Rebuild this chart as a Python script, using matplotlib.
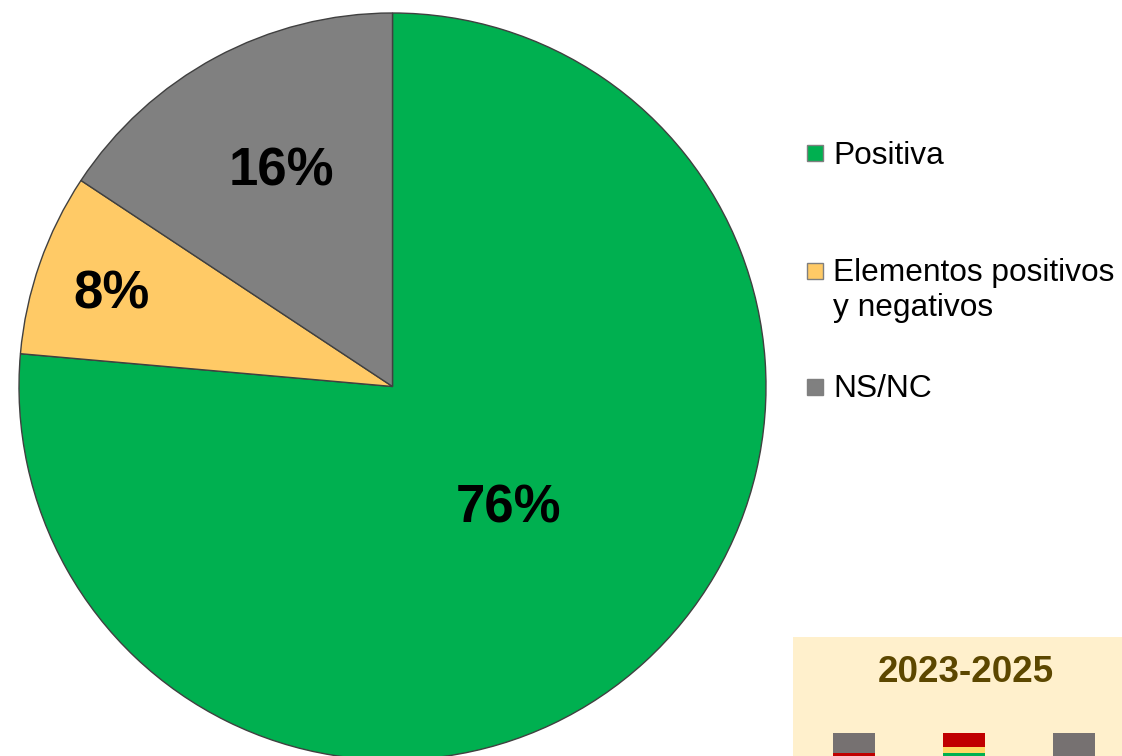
import numpy as np
import matplotlib.pyplot as plt
from matplotlib.patches import Rectangle

plt.rcParams['font.family'] = ['Liberation Sans', 'DejaVu Sans']

labels = ['Positiva', 'Elementos positivos\ny negativos', 'NS/NC']
values = [76.4, 7.9, 15.7]
colors = ['#00B050', '#FFCA66', '#808080']
period = '2023-2025'

W, H = 1122, 756
fig = plt.figure(figsize=(W / 100, H / 100), dpi=100)

# pie axes: centre (392.5, 386.5) px from top, radius 373.5 px
cx, cy, r = 392.5, H - 386.5, 373.5
ax = fig.add_axes([(cx - r) / W, (cy - r) / H, 2 * r / W, 2 * r / H])
wedges, texts = ax.pie(values, colors=colors, startangle=90, counterclock=False,
                       radius=1, labels=[f'{v:.0f}%' for v in values],
                       wedgeprops=dict(edgecolor='#404040', linewidth=1.0),
                       textprops=dict(fontsize=38, fontweight='bold', color='black'))
ax.set_xlim(-1, 1)
ax.set_ylim(-1, 1)
ax.set_aspect('equal')
ax.axis('off')
for w in wedges:
    w.set_clip_on(False)

# each value label sits at its own distance (and small angular nudge) from the centre
label_dist = [0.45, 0.791, 0.648]
label_nudge = [1.0, 1.15, -1.0]
for w, t, d, da in zip(wedges, texts, label_dist, label_nudge):
    ang = np.deg2rad((w.theta1 + w.theta2) / 2 + da)
    t.set_position((d * np.cos(ang), d * np.sin(ang)))
    t.set_ha('center')
    t.set_va('center')

# legend drawn by hand, marker beside the first line of each entry
marker_y = [152.5, 271.5, 387]
baseline_y = [164, 280, 397]
line_h = 36
for lab, col, my, by in zip(labels, colors, marker_y, baseline_y):
    fig.patches.append(Rectangle((807 / W, (H - my - 8) / H), 16 / W, 16 / H,
                                 transform=fig.transFigure, facecolor=col,
                                 edgecolor='#7f7f7f', linewidth=1.0))
    nlines = lab.count('\n')
    # va='baseline' anchors the last line of a multi-line text
    fig.text(833 / W, (H - by - line_h * nlines) / H, lab, fontsize=22.8,
             ha='left', va='baseline', linespacing=1.23, color='black')

# period box in the lower right corner
fig.patches.append(Rectangle((793 / W, 0), (W - 793) / W, 119 / H,
                             transform=fig.transFigure, facecolor='#FFF0CC', edgecolor='none'))
fig.text(966 / W, (H - 673) / H, period, fontsize=26.5, fontweight='bold',
         color='#5C4700', ha='center', va='center')

# small bar icons at the bottom of the box
icons = [
    [(833, 733, 753, '#767171'), (833, 753, 760, '#C00000')],
    [(943, 733, 747, '#C00000'), (943, 747, 753, '#FFD966'), (943, 753, 760, '#00B050')],
    [(1053, 733, 760, '#767171')],
]
for icon in icons:
    for x0, y0, y1, c in icon:
        fig.patches.append(Rectangle((x0 / W, (H - y1) / H), 42 / W, (y1 - y0) / H,
                                     transform=fig.transFigure, facecolor=c, edgecolor='none'))

fig.savefig('out.png', dpi=100, facecolor='white')
